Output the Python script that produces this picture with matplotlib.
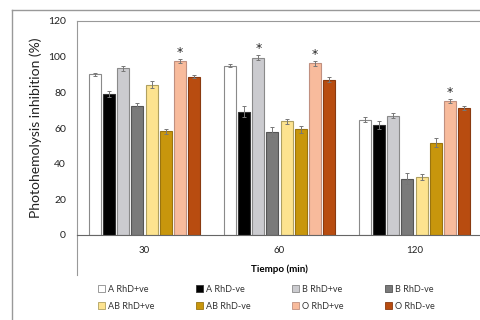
import matplotlib
matplotlib.use("Agg")
import matplotlib.pyplot as plt
from matplotlib.lines import Line2D
from matplotlib.patches import Patch
import numpy as np

plt.rcParams['font.family'] = ['Lato', 'DejaVu Sans']

times = ["30", "60", "120"]
series = ["A RhD+ve", "A RhD-ve", "B RhD+ve", "B RhD-ve",
          "AB RhD+ve", "AB RhD-ve", "O RhD+ve", "O RhD-ve"]
a_pos = [90.1, 95.0, 64.7]
a_neg = [79.0, 69.2, 61.7]
b_pos = [93.5, 99.5, 66.9]
b_neg = [72.5, 57.8, 31.6]
ab_pos = [84.3, 63.8, 32.5]
ab_neg = [58.1, 59.3, 51.8]
o_pos = [97.6, 96.3, 75.2]
o_neg = [88.8, 87.1, 71.2]
values = [a_pos, a_neg, b_pos, b_neg, ab_pos, ab_neg, o_pos, o_neg]
a_pos_err = [1.0, 1.0, 1.5]
a_neg_err = [1.5, 3.0, 2.5]
b_pos_err = [1.5, 1.5, 1.5]
b_neg_err = [1.5, 3.0, 3.0]
ab_pos_err = [2.0, 1.5, 1.5]
ab_neg_err = [1.5, 2.0, 2.5]
o_pos_err = [1.0, 1.5, 1.0]
o_neg_err = [1.0, 1.5, 1.0]
errors = [a_pos_err, a_neg_err, b_pos_err, b_neg_err,
          ab_pos_err, ab_neg_err, o_pos_err, o_neg_err]
# significance markers (series index, time index)
stars = [(6, 0), (2, 1), (6, 1), (6, 2)]

colors = ["#ffffff", "#000000", "#cbcbcf", "#7a7a7a",
          "#fde38f", "#c8960c", "#f8bb9c", "#b84c10"]
edges = ["#8a8a8a", "#333333", "#8a8a8a", "#555555",
         "#b0a060", "#9a7410", "#c09080", "#8a3a10"]

fig = plt.figure(figsize=(4.8, 3.2), dpi=100)
ax = fig.add_axes([77/480, 1-235/320, 405/480, 214/320])

x = np.arange(len(times))
slot = 0.1045
width = 0.089
for i, (vals, errs) in enumerate(zip(values, errors)):
    pos = x + (i - 3.5) * slot
    ax.bar(pos, vals, width, color=colors[i], edgecolor=edges[i], linewidth=0.8,
           label=series[i], zorder=2)
    ax.errorbar(pos, vals, yerr=errs, fmt='none', ecolor="#777777",
                elinewidth=0.7, capsize=1.5, capthick=0.7, zorder=3)

for si, ti in stars:
    ax.text(x[ti] + (si - 3.5) * slot, values[si][ti] + errors[si][ti] + 3.5, "*",
            ha='center', va='center', fontsize=9, color="#222222",
            family='DejaVu Sans')

ax.set_xlim(-0.5, 2.5)
ax.set_ylim(0, 120)
ax.set_yticks([0, 20, 40, 60, 80, 100, 120])
ax.tick_params(axis='y', length=0, labelsize=7.5, pad=8, colors="#222222")
ax.set_xticks(x)
ax.set_xticklabels(times)
ax.tick_params(axis='x', length=0, labelsize=7, pad=8, colors="#222222")
ax.set_ylabel("Photohemolysis inhibition (%)", fontsize=10, labelpad=4, color="#222222")
ax.set_xlabel("Tiempo (min)", fontsize=7, fontweight='bold', labelpad=7)

ax.spines['right'].set_visible(False)
ax.spines['top'].set_color("#999999")
ax.spines['left'].set_color("#999999")
ax.spines['bottom'].set_color("#666666")
ax.spines['bottom'].set_linewidth(0.8)
# left border of plot area continuing below the axis
ax.add_line(Line2D([0, 0], [0, -40/214], transform=ax.transAxes,
                   color="#999999", linewidth=0.8, clip_on=False))

# outer chart border
fig.add_artist(Line2D([12/480, 12/480], [0, 1-10/320], color="#999999", linewidth=1.0))
fig.add_artist(Line2D([12/480, 1], [1-10/320, 1-10/320], color="#999999", linewidth=1.0))

handles = [Patch(facecolor=colors[i], edgecolor=edges[i], linewidth=0.6) for i in range(8)]
order = [0, 4, 1, 5, 2, 6, 3, 7]
fig.legend([handles[i] for i in order], [series[i] for i in order],
           loc='upper left', bbox_to_anchor=(98/480, 1-285/320), ncol=4,
           frameon=False, fontsize=6.5, handlelength=0.8, handleheight=0.8,
           handletextpad=0.3, columnspacing=4.6, labelspacing=0.85,
           borderpad=0, borderaxespad=0, labelcolor="#333333")

fig.savefig("out.png", dpi=100)
